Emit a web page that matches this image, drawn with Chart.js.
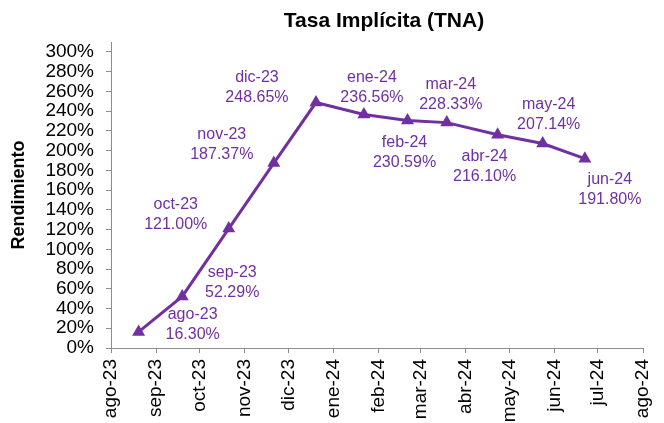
<!DOCTYPE html>
<html>
<head>
<meta charset="utf-8">
<script src="https://cdn.jsdelivr.net/npm/chart.js@4/dist/chart.umd.min.js"></script>
<style>
  html, body { margin: 0; padding: 0; background: #fff; }
  #wrap { width: 664px; height: 423px; position: relative; }
</style>
</head>
<body>
<div id="wrap"><canvas id="tna"></canvas></div>
<script>
// data
const labels = ['ago-23', 'sep-23', 'oct-23', 'nov-23', 'dic-23', 'ene-24', 'feb-24', 'mar-24', 'abr-24', 'may-24', 'jun-24'];
const dates = ['2023-08-20', '2023-09-19', '2023-10-21', '2023-11-21', '2023-12-20', '2024-01-22',
               '2024-02-21', '2024-03-19', '2024-04-23', '2024-05-24', '2024-06-22'];
const rates = [16.30, 52.29, 121.00, 187.37, 248.65, 236.56, 230.59, 228.33, 216.10, 207.14, 191.80];
const xTickLabels = ['ago-23', 'sep-23', 'oct-23', 'nov-23', 'dic-23', 'ene-24', 'feb-24',
                     'mar-24', 'abr-24', 'may-24', 'jun-24', 'jul-24', 'ago-24'];
const yTicks = [0, 20, 40, 60, 80, 100, 120, 140, 160, 180, 200, 220, 240, 260, 280, 300];

// where each data label sits relative to its point (dx, dy of the text block centre)
const labelOffsets = [[54, -7], [50, -14], [-53, -14], [-52, -18], [-59, -15], [8, -27],
                      [-3, 32], [4, -28], [-13, 32], [6, -29], [25, 31]];

const FONT = "'Liberation Sans', Arial, Helvetica, sans-serif";
const PURPLE = '#7030A0';
const AXIS = '#8c8c8c';

const DAY = 86400000;
const start = Date.UTC(2023, 7, 1);
const dayOf = s => (Date.parse(s + 'T00:00:00Z') - start) / DAY;
const monthTicks = xTickLabels.map((_, i) => (Date.UTC(2023, 7 + i, 1) - start) / DAY);

const points = dates.map((d, i) => ({ x: dayOf(d), y: rates[i] }));

const titlePlugin = {
  id: 'topTitle',
  afterDraw(chart) {
    const ctx = chart.ctx, a = chart.chartArea;
    ctx.save();
    ctx.font = 'bold 21px ' + FONT;
    ctx.fillStyle = '#000';
    ctx.textAlign = 'center';
    ctx.textBaseline = 'middle';
    ctx.fillText('Tasa Implícita (TNA)', (a.left + a.right) / 2 + 7, 21);
    ctx.restore();
  }
};

const dataLabels = {
  id: 'dataLabels',
  afterDatasetsDraw(chart) {
    const ctx = chart.ctx;
    const meta = chart.getDatasetMeta(0);
    ctx.save();
    ctx.font = '16px ' + FONT;
    ctx.fillStyle = PURPLE;
    ctx.textAlign = 'center';
    ctx.textBaseline = 'middle';
    meta.data.forEach((pt, i) => {
      const [dx, dy] = labelOffsets[i];
      const cx = pt.x + dx, cy = pt.y + dy;
      ctx.fillText(labels[i], cx, cy - 10);
      ctx.fillText(rates[i].toFixed(2) + '%', cx, cy + 10);
    });
    ctx.restore();
  }
};

new Chart(document.getElementById('tna'), {
  type: 'line',
  data: {
    datasets: [{
      data: points,
      borderColor: PURPLE,
      backgroundColor: PURPLE,
      borderWidth: 3,
      tension: 0,
      pointStyle: 'triangle',
      pointRadius: 7.5,
      pointBorderWidth: 0,
      pointBackgroundColor: PURPLE
    }]
  },
  options: {
    responsive: true,
    maintainAspectRatio: false,
    animation: false,
    layout: { padding: { top: 42, right: 21, left: 0, bottom: 0 } },
    plugins: {
      legend: { display: false },
      tooltip: { enabled: false },
      title: { display: false }
    },
    scales: {
      x: {
        type: 'linear',
        min: 0,
        max: monthTicks[monthTicks.length - 1],
        afterBuildTicks(axis) {
          axis.ticks = monthTicks.map(v => ({ value: v }));
        },
        afterFit(axis) {
          axis.height = 75;
          axis.paddingLeft = 0;
          axis.paddingRight = 0;
        },
        grid: { drawOnChartArea: false, tickLength: 5, color: AXIS },
        border: { color: AXIS, width: 1 },
        ticks: {
          minRotation: 90,
          maxRotation: 90,
          autoSkip: false,
          padding: 6,
          color: '#000',
          font: { family: FONT, size: 19 },
          callback(v) {
            const i = monthTicks.indexOf(v);
            return i >= 0 ? xTickLabels[i] : '';
          }
        }
      },
      y: {
        min: 0,
        max: 310,
        afterBuildTicks(axis) {
          axis.ticks = yTicks.map(v => ({ value: v }));
        },
        afterFit(axis) {
          axis.width = 111;
          axis.paddingTop = 0;
          axis.paddingBottom = 0;
        },
        grid: { drawOnChartArea: false, tickLength: 5, color: AXIS },
        border: { color: AXIS, width: 1 },
        title: {
          display: true,
          text: 'Rendimiento',
          color: '#000',
          font: { family: FONT, size: 18, weight: 'bold' },
          padding: { top: 8, bottom: 0 }
        },
        ticks: {
          autoSkip: false,
          padding: 12,
          color: '#000',
          font: { family: FONT, size: 19, lineHeight: 1 },
          callback: v => v + '%'
        }
      }
    }
  },
  plugins: [titlePlugin, dataLabels]
});
</script>
</body>
</html>
